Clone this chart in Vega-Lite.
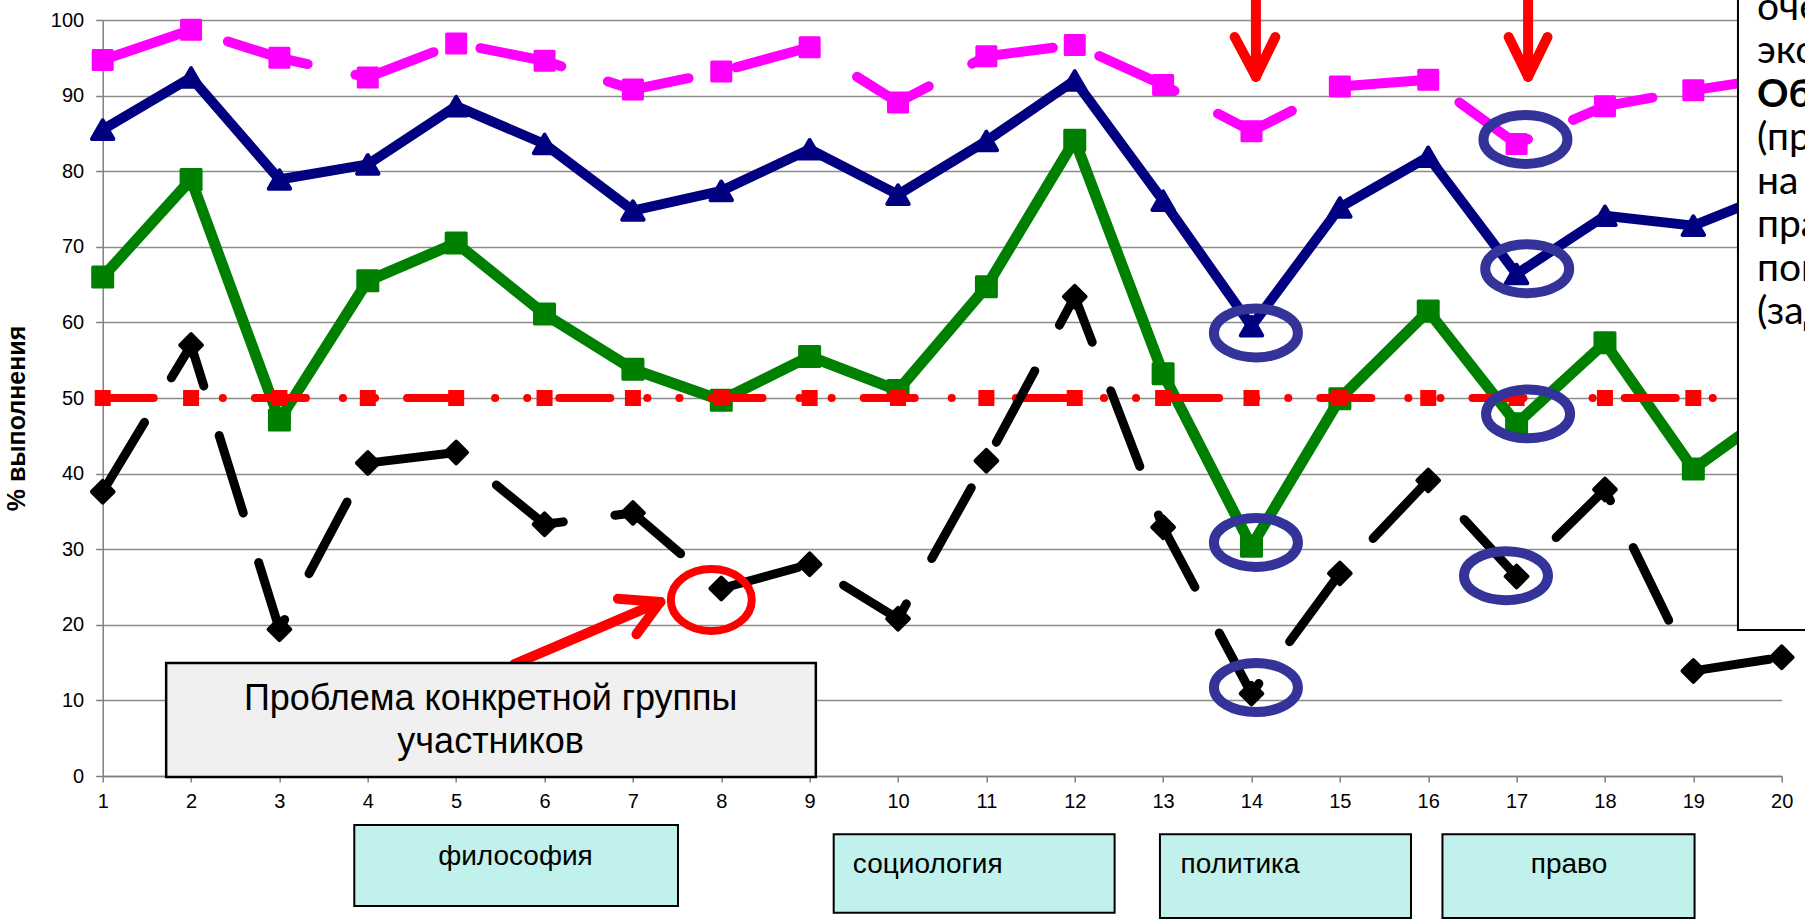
{
  "$schema": "https://vega.github.io/schema/vega-lite/v6.json",
  "width": 1679,
  "height": 756,
  "autosize": {"type": "none"},
  "padding": {"left": 102.7, "top": 20, "right": 23.3, "bottom": 146},
  "background": "white",
  "config": {
    "view": {"stroke": null},
    "axis": {"labelFont": "Liberation Sans", "titleFont": "Liberation Sans"}
  },
  "datasets": {
    "series": [
      {"s": "pink", "n": 1, "v": 94.7}, {"s": "pink", "n": 2, "v": 98.7}, {"s": "pink", "n": 3, "v": 95.0}, {"s": "pink", "n": 4, "v": 92.4}, {"s": "pink", "n": 5, "v": 96.9},
      {"s": "pink", "n": 6, "v": 94.6}, {"s": "pink", "n": 7, "v": 90.8}, {"s": "pink", "n": 8, "v": 93.2}, {"s": "pink", "n": 9, "v": 96.4}, {"s": "pink", "n": 10, "v": 89.1},
      {"s": "pink", "n": 11, "v": 95.2}, {"s": "pink", "n": 12, "v": 96.7}, {"s": "pink", "n": 13, "v": 91.4}, {"s": "pink", "n": 14, "v": 85.3}, {"s": "pink", "n": 15, "v": 91.2},
      {"s": "pink", "n": 16, "v": 92.1}, {"s": "pink", "n": 17, "v": 83.6}, {"s": "pink", "n": 18, "v": 88.6}, {"s": "pink", "n": 19, "v": 90.7}, {"s": "pink", "n": 20, "v": 92.5},
      {"s": "navy", "n": 1, "v": 85.5}, {"s": "navy", "n": 2, "v": 92.4}, {"s": "navy", "n": 3, "v": 78.9}, {"s": "navy", "n": 4, "v": 80.9}, {"s": "navy", "n": 5, "v": 88.6},
      {"s": "navy", "n": 6, "v": 83.6}, {"s": "navy", "n": 7, "v": 74.8}, {"s": "navy", "n": 8, "v": 77.4}, {"s": "navy", "n": 9, "v": 82.9}, {"s": "navy", "n": 10, "v": 76.9},
      {"s": "navy", "n": 11, "v": 84.0}, {"s": "navy", "n": 12, "v": 92.0}, {"s": "navy", "n": 13, "v": 76.1}, {"s": "navy", "n": 14, "v": 59.5}, {"s": "navy", "n": 15, "v": 75.2},
      {"s": "navy", "n": 16, "v": 81.9}, {"s": "navy", "n": 17, "v": 66.4}, {"s": "navy", "n": 18, "v": 74.1}, {"s": "navy", "n": 19, "v": 72.8}, {"s": "navy", "n": 20, "v": 77.5},
      {"s": "green", "n": 1, "v": 66.0}, {"s": "green", "n": 2, "v": 78.9}, {"s": "green", "n": 3, "v": 47.1}, {"s": "green", "n": 4, "v": 65.5}, {"s": "green", "n": 5, "v": 70.5},
      {"s": "green", "n": 6, "v": 61.1}, {"s": "green", "n": 7, "v": 53.8}, {"s": "green", "n": 8, "v": 49.7}, {"s": "green", "n": 9, "v": 55.5}, {"s": "green", "n": 10, "v": 51.0},
      {"s": "green", "n": 11, "v": 64.7}, {"s": "green", "n": 12, "v": 84.1}, {"s": "green", "n": 13, "v": 53.2}, {"s": "green", "n": 14, "v": 30.4}, {"s": "green", "n": 15, "v": 49.9},
      {"s": "green", "n": 16, "v": 61.5}, {"s": "green", "n": 17, "v": 46.6}, {"s": "green", "n": 18, "v": 57.3}, {"s": "green", "n": 19, "v": 40.6}, {"s": "green", "n": 20, "v": 49.0},
      {"s": "red", "n": 1, "v": 50}, {"s": "red", "n": 2, "v": 50}, {"s": "red", "n": 3, "v": 50}, {"s": "red", "n": 4, "v": 50}, {"s": "red", "n": 5, "v": 50},
      {"s": "red", "n": 6, "v": 50}, {"s": "red", "n": 7, "v": 50}, {"s": "red", "n": 8, "v": 50}, {"s": "red", "n": 9, "v": 50}, {"s": "red", "n": 10, "v": 50},
      {"s": "red", "n": 11, "v": 50}, {"s": "red", "n": 12, "v": 50}, {"s": "red", "n": 13, "v": 50}, {"s": "red", "n": 14, "v": 50}, {"s": "red", "n": 15, "v": 50},
      {"s": "red", "n": 16, "v": 50}, {"s": "red", "n": 17, "v": 50}, {"s": "red", "n": 18, "v": 50}, {"s": "red", "n": 19, "v": 50}, {"s": "red", "n": 20, "v": 50},
      {"s": "black", "n": 1, "v": 37.6}, {"s": "black", "n": 2, "v": 57.0}, {"s": "black", "n": 3, "v": 19.4}, {"s": "black", "n": 4, "v": 41.4}, {"s": "black", "n": 5, "v": 42.8},
      {"s": "black", "n": 6, "v": 33.3}, {"s": "black", "n": 7, "v": 34.8}, {"s": "black", "n": 8, "v": 24.8}, {"s": "black", "n": 9, "v": 28.0}, {"s": "black", "n": 10, "v": 20.8},
      {"s": "black", "n": 11, "v": 41.7}, {"s": "black", "n": 12, "v": 63.4}, {"s": "black", "n": 13, "v": 32.9}, {"s": "black", "n": 14, "v": 10.9}, {"s": "black", "n": 15, "v": 26.8},
      {"s": "black", "n": 16, "v": 39.1}, {"s": "black", "n": 17, "v": 26.4}, {"s": "black", "n": 18, "v": 37.9}, {"s": "black", "n": 19, "v": 13.9}, {"s": "black", "n": 20, "v": 15.7}
    ],
    "blueRings": [
      {"n": 14.05, "v": 58.6}, {"n": 14.05, "v": 30.9}, {"n": 14.05, "v": 11.7},
      {"n": 17.1, "v": 84.2}, {"n": 17.12, "v": 67.1}, {"n": 17.13, "v": 47.9}, {"n": 16.88, "v": 26.5}
    ],
    "redRing": [{"n": 7.887, "v": 23.28}],
    "arrows": [
      {"n": 14.05, "v": 104, "n2": 14.05, "v2": 92.5},
      {"n": 13.81, "v": 97.75, "n2": 14.05, "v2": 92.5},
      {"n": 14.27, "v": 97.75, "n2": 14.05, "v2": 92.5},
      {"n": 17.13, "v": 104, "n2": 17.13, "v2": 92.5},
      {"n": 16.91, "v": 97.75, "n2": 17.13, "v2": 92.5},
      {"n": 17.35, "v": 97.75, "n2": 17.13, "v2": 92.5},
      {"n": 5.66, "v": 14.8, "n2": 7.31, "v2": 23.03},
      {"n": 6.83, "v": 23.45, "n2": 7.31, "v2": 23.03},
      {"n": 7.04, "v": 18.74, "n2": 7.31, "v2": 23.03}
    ],
    "grayBox": [{"n": 1.718, "n2": 9.07, "v": 14.95, "v2": -0.13}],
    "grayText": [
      {"n": 5.39, "v": 8.73, "t": "Проблема конкретной группы"},
      {"n": 5.39, "v": 3.0, "t": "участников"}
    ],
    "cyanBoxes": [
      {"n": 3.847, "n2": 7.51, "v": -6.48, "v2": -17.2},
      {"n": 9.272, "n2": 12.451, "v": -7.71, "v2": -18.08},
      {"n": 12.964, "n2": 15.805, "v": -7.71, "v2": -18.78},
      {"n": 16.161, "n2": 19.014, "v": -7.71, "v2": -18.78}
    ],
    "cyanCenter": [
      {"n": 5.671, "v": -11.77, "t": "философия"},
      {"n": 17.593, "v": -12.8, "t": "право"}
    ],
    "cyanLeft": [
      {"n": 9.489, "v": -12.8, "t": "социология"},
      {"n": 13.197, "v": -12.8, "t": "политика"}
    ],
    "rightBox": [{"n": 19.505, "n2": 21.5, "v": 19.3, "v2": 106}],
    "rightText": [
      {"n": 19.72, "v": 100, "t": "очевидно"},
      {"n": 19.72, "v": 94.25, "t": "экспертам"},
      {"n": 19.72, "v": 82.75, "t": "(проверка"},
      {"n": 19.72, "v": 77.0, "t": "на"},
      {"n": 19.72, "v": 71.25, "t": "правовых"},
      {"n": 19.72, "v": 65.5, "t": "поведения"},
      {"n": 19.72, "v": 59.75, "t": "(задания"}
    ],
    "rightBold": [{"n": 19.72, "v": 88.5, "t": "Объективно"}]
  },
  "layer": [
    {
      "data": {"name": "series"},
      "transform": [{"filter": "datum.s === 'green'"}],
      "mark": {"type": "line", "color": "#008000", "strokeWidth": 11, "strokeJoin": "round", "strokeCap": "round"},
      "encoding": {
        "x": {
          "field": "n", "type": "quantitative",
          "scale": {"domain": [1, 20], "nice": false, "zero": false},
          "axis": {
            "title": null, "values": [1, 2, 3, 4, 5, 6, 7, 8, 9, 10, 11, 12, 13, 14, 15, 16, 17, 18, 19, 20],
            "grid": false, "format": "d", "tickSize": 6, "tickColor": "#808080", "tickWidth": 1.5,
            "domainColor": "#808080", "domainWidth": 1.5, "labelFontSize": 20, "labelColor": "#000000",
            "labelPadding": 9, "labelFlush": false, "labelOverlap": false
          }
        },
        "y": {
          "field": "v", "type": "quantitative",
          "scale": {"domain": [0, 100], "nice": false},
          "axis": {
            "title": "% выполнения", "values": [0, 10, 20, 30, 40, 50, 60, 70, 80, 90, 100],
            "grid": true, "gridColor": "#8c8c8c", "gridWidth": 1.5,
            "tickSize": 7, "tickColor": "#808080", "tickWidth": 1.5,
            "domainColor": "#808080", "domainWidth": 1.5, "labelFontSize": 20, "labelColor": "#000000",
            "labelPadding": 12, "labelFlush": false, "labelOverlap": false,
            "titleFontSize": 25, "titleFontWeight": "bold", "titleColor": "#000000",
            "titleAngle": 270, "titleAlign": "center", "titleBaseline": "alphabetic",
            "titleX": -78, "titleY": 398
          }
        }
      }
    },
    {
      "data": {"name": "series"},
      "transform": [{"filter": "datum.s === 'green'"}],
      "mark": {"type": "point", "shape": "square", "filled": true, "color": "#008000", "stroke": "#008000", "strokeWidth": 3, "strokeJoin": "round", "size": 400, "opacity": 1},
      "encoding": {
        "x": {"field": "n", "type": "quantitative", "scale": {"domain": [1, 20], "nice": false, "zero": false}},
        "y": {"field": "v", "type": "quantitative", "scale": {"domain": [0, 100], "nice": false}}
      }
    },
    {
      "data": {"name": "series"},
      "transform": [{"filter": "datum.s === 'navy'"}],
      "mark": {"type": "line", "color": "#000080", "strokeWidth": 10, "strokeJoin": "round", "strokeCap": "round"},
      "encoding": {
        "x": {"field": "n", "type": "quantitative", "scale": {"domain": [1, 20], "nice": false, "zero": false}},
        "y": {"field": "v", "type": "quantitative", "scale": {"domain": [0, 100], "nice": false}}
      }
    },
    {
      "data": {"name": "series"},
      "transform": [{"filter": "datum.s === 'navy'"}],
      "mark": {"type": "point", "shape": "triangle-up", "filled": true, "color": "#000080", "stroke": "#000080", "strokeWidth": 4, "strokeJoin": "round", "size": 460, "opacity": 1},
      "encoding": {
        "x": {"field": "n", "type": "quantitative", "scale": {"domain": [1, 20], "nice": false, "zero": false}},
        "y": {"field": "v", "type": "quantitative", "scale": {"domain": [0, 100], "nice": false}}
      }
    },
    {
      "data": {"name": "series"},
      "transform": [{"filter": "datum.s === 'pink'"}],
      "mark": {"type": "line", "color": "#ff00ff", "strokeWidth": 10, "strokeJoin": "round", "strokeCap": "round", "strokeDash": [83, 49]},
      "encoding": {
        "x": {"field": "n", "type": "quantitative", "scale": {"domain": [1, 20], "nice": false, "zero": false}},
        "y": {"field": "v", "type": "quantitative", "scale": {"domain": [0, 100], "nice": false}}
      }
    },
    {
      "data": {"name": "series"},
      "transform": [{"filter": "datum.s === 'pink'"}],
      "mark": {"type": "point", "shape": "square", "filled": true, "color": "#ff00ff", "stroke": "#ff00ff", "strokeWidth": 3, "strokeJoin": "round", "size": 361, "opacity": 1},
      "encoding": {
        "x": {"field": "n", "type": "quantitative", "scale": {"domain": [1, 20], "nice": false, "zero": false}},
        "y": {"field": "v", "type": "quantitative", "scale": {"domain": [0, 100], "nice": false}}
      }
    },
    {
      "data": {"name": "series"},
      "transform": [{"filter": "datum.s === 'red'"}],
      "mark": {"type": "line", "color": "#ff0000", "strokeWidth": 8, "strokeJoin": "round", "strokeCap": "round", "strokeDash": [51, 37, 0.1, 32, 0.1, 32]},
      "encoding": {
        "x": {"field": "n", "type": "quantitative", "scale": {"domain": [1, 20], "nice": false, "zero": false}},
        "y": {"field": "v", "type": "quantitative", "scale": {"domain": [0, 100], "nice": false}}
      }
    },
    {
      "data": {"name": "series"},
      "transform": [{"filter": "datum.s === 'red'"}],
      "mark": {"type": "point", "shape": "square", "filled": true, "color": "#ff0000", "stroke": "#ff0000", "strokeWidth": 2, "size": 196, "opacity": 1},
      "encoding": {
        "x": {"field": "n", "type": "quantitative", "scale": {"domain": [1, 20], "nice": false, "zero": false}},
        "y": {"field": "v", "type": "quantitative", "scale": {"domain": [0, 100], "nice": false}}
      }
    },
    {
      "data": {"name": "series"},
      "transform": [{"filter": "datum.s === 'black'"}],
      "mark": {"type": "line", "color": "#000000", "strokeWidth": 9, "strokeJoin": "round", "strokeCap": "round", "strokeDash": [81, 52]},
      "encoding": {
        "x": {"field": "n", "type": "quantitative", "scale": {"domain": [1, 20], "nice": false, "zero": false}},
        "y": {"field": "v", "type": "quantitative", "scale": {"domain": [0, 100], "nice": false}}
      }
    },
    {
      "data": {"name": "series"},
      "transform": [{"filter": "datum.s === 'black'"}],
      "mark": {"type": "point", "shape": "diamond", "filled": true, "color": "#000000", "stroke": "#000000", "strokeWidth": 4, "strokeJoin": "round", "size": 470, "opacity": 1},
      "encoding": {
        "x": {"field": "n", "type": "quantitative", "scale": {"domain": [1, 20], "nice": false, "zero": false}},
        "y": {"field": "v", "type": "quantitative", "scale": {"domain": [0, 100], "nice": false}}
      }
    },
    {
      "data": {"name": "blueRings"},
      "mark": {"type": "point", "shape": "M -1 0 A 1 0.583 0 1 1 1 0 A 1 0.583 0 1 1 -1 0 Z", "filled": false, "fill": null, "stroke": "#333399", "strokeWidth": 10, "size": 7056, "opacity": 1},
      "encoding": {
        "x": {"field": "n", "type": "quantitative", "scale": {"domain": [1, 20], "nice": false, "zero": false}},
        "y": {"field": "v", "type": "quantitative", "scale": {"domain": [0, 100], "nice": false}}
      }
    },
    {
      "data": {"name": "redRing"},
      "mark": {"type": "point", "shape": "M -1 0 A 1 0.765 0 1 1 1 0 A 1 0.765 0 1 1 -1 0 Z", "filled": false, "fill": null, "stroke": "#ff0000", "strokeWidth": 8, "size": 6561, "opacity": 1},
      "encoding": {
        "x": {"field": "n", "type": "quantitative", "scale": {"domain": [1, 20], "nice": false, "zero": false}},
        "y": {"field": "v", "type": "quantitative", "scale": {"domain": [0, 100], "nice": false}}
      }
    },
    {
      "data": {"name": "arrows"},
      "mark": {"type": "rule", "color": "#ff0000", "strokeWidth": 10, "strokeCap": "round"},
      "encoding": {
        "x": {"field": "n", "type": "quantitative", "scale": {"domain": [1, 20], "nice": false, "zero": false}},
        "y": {"field": "v", "type": "quantitative", "scale": {"domain": [0, 100], "nice": false}},
        "x2": {"field": "n2"},
        "y2": {"field": "v2"}
      }
    },
    {
      "data": {"name": "grayBox"},
      "mark": {"type": "rect", "fill": "#f0f0f0", "stroke": "#000000", "strokeWidth": 2.5},
      "encoding": {
        "x": {"field": "n", "type": "quantitative", "scale": {"domain": [1, 20], "nice": false, "zero": false}},
        "y": {"field": "v", "type": "quantitative", "scale": {"domain": [0, 100], "nice": false}},
        "x2": {"field": "n2"},
        "y2": {"field": "v2"}
      }
    },
    {
      "data": {"name": "grayText"},
      "mark": {"type": "text", "font": "Liberation Sans", "fontSize": 36, "color": "#000000", "align": "center", "baseline": "alphabetic"},
      "encoding": {
        "x": {"field": "n", "type": "quantitative", "scale": {"domain": [1, 20], "nice": false, "zero": false}},
        "y": {"field": "v", "type": "quantitative", "scale": {"domain": [0, 100], "nice": false}},
        "text": {"field": "t"}
      }
    },
    {
      "data": {"name": "cyanBoxes"},
      "mark": {"type": "rect", "fill": "#c0f1ec", "stroke": "#000000", "strokeWidth": 2},
      "encoding": {
        "x": {"field": "n", "type": "quantitative", "scale": {"domain": [1, 20], "nice": false, "zero": false}},
        "y": {"field": "v", "type": "quantitative", "scale": {"domain": [0, 100], "nice": false}},
        "x2": {"field": "n2"},
        "y2": {"field": "v2"}
      }
    },
    {
      "data": {"name": "cyanCenter"},
      "mark": {"type": "text", "font": "Liberation Sans", "fontSize": 28, "color": "#000000", "align": "center", "baseline": "alphabetic"},
      "encoding": {
        "x": {"field": "n", "type": "quantitative", "scale": {"domain": [1, 20], "nice": false, "zero": false}},
        "y": {"field": "v", "type": "quantitative", "scale": {"domain": [0, 100], "nice": false}},
        "text": {"field": "t"}
      }
    },
    {
      "data": {"name": "cyanLeft"},
      "mark": {"type": "text", "font": "Liberation Sans", "fontSize": 28, "color": "#000000", "align": "left", "baseline": "alphabetic"},
      "encoding": {
        "x": {"field": "n", "type": "quantitative", "scale": {"domain": [1, 20], "nice": false, "zero": false}},
        "y": {"field": "v", "type": "quantitative", "scale": {"domain": [0, 100], "nice": false}},
        "text": {"field": "t"}
      }
    },
    {
      "data": {"name": "rightBox"},
      "mark": {"type": "rect", "fill": "#ffffff", "stroke": "#000000", "strokeWidth": 2},
      "encoding": {
        "x": {"field": "n", "type": "quantitative", "scale": {"domain": [1, 20], "nice": false, "zero": false}},
        "y": {"field": "v", "type": "quantitative", "scale": {"domain": [0, 100], "nice": false}},
        "x2": {"field": "n2"},
        "y2": {"field": "v2"}
      }
    },
    {
      "data": {"name": "rightText"},
      "mark": {"type": "text", "font": "Lato", "fontSize": 39, "color": "#000000", "align": "left", "baseline": "alphabetic"},
      "encoding": {
        "x": {"field": "n", "type": "quantitative", "scale": {"domain": [1, 20], "nice": false, "zero": false}},
        "y": {"field": "v", "type": "quantitative", "scale": {"domain": [0, 100], "nice": false}},
        "text": {"field": "t"}
      }
    },
    {
      "data": {"name": "rightBold"},
      "mark": {"type": "text", "font": "Lato", "fontSize": 39, "fontWeight": "bold", "color": "#000000", "align": "left", "baseline": "alphabetic"},
      "encoding": {
        "x": {"field": "n", "type": "quantitative", "scale": {"domain": [1, 20], "nice": false, "zero": false}},
        "y": {"field": "v", "type": "quantitative", "scale": {"domain": [0, 100], "nice": false}},
        "text": {"field": "t"}
      }
    }
  ]
}
